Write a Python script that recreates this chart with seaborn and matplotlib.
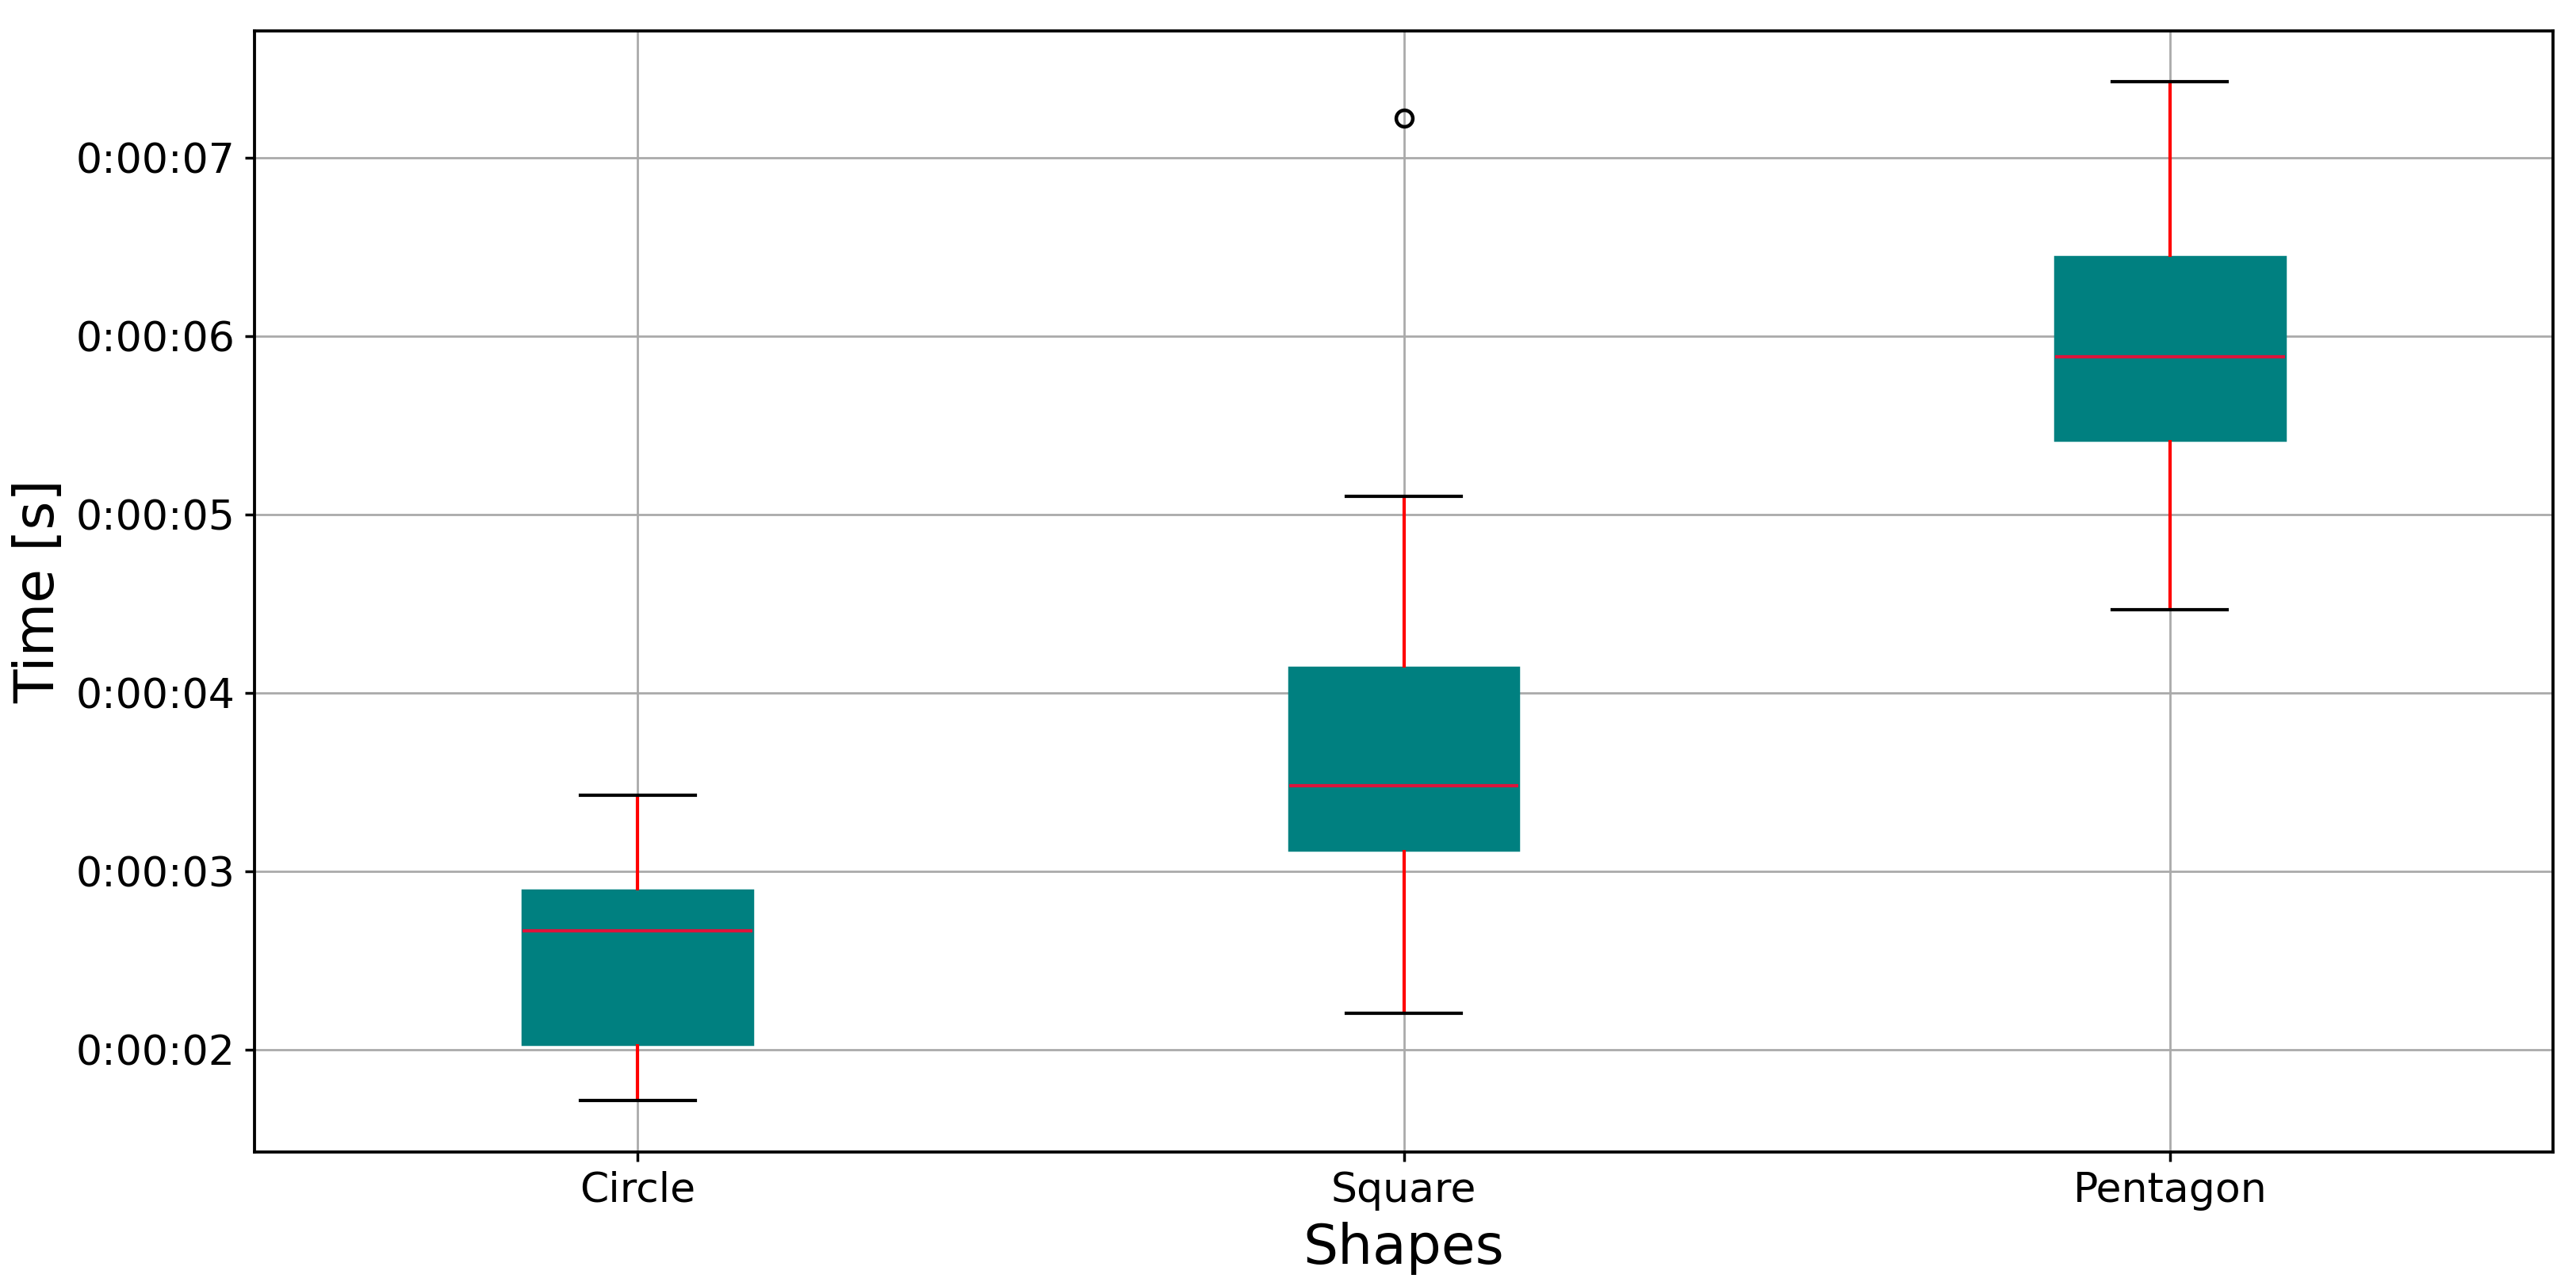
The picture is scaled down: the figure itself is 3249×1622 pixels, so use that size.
import datetime

import numpy as np
import pandas as pd
import matplotlib
matplotlib.use("Agg")
import matplotlib.pyplot as plt
import seaborn as sns
from matplotlib.ticker import FuncFormatter, MultipleLocator


# -------------------------------------------------------
# Box statistics (seconds)
# -------------------------------------------------------

shapes = ["Circle", "Square", "Pentagon"]
whisker_low = [1.714, 2.204, 4.465]
quartile_1 = [2.032, 3.121, 5.415]
medians = [2.668, 3.479, 5.881]
quartile_3 = [2.893, 4.142, 6.441]
whisker_high = [3.424, 5.103, 7.423]
outliers = [[], [7.219], []]


# observations that give exactly these quartiles / whiskers
rows = []
for i, shape in enumerate(shapes):
    values = [
        whisker_low[i],
        quartile_1[i], quartile_1[i],
        medians[i], medians[i],
        quartile_3[i], quartile_3[i],
        whisker_high[i],
    ] + outliers[i]
    for v in values:
        rows.append({"Shape": shape, "Time": v})

df = pd.DataFrame(rows)


# -------------------------------------------------------
# Plot
# -------------------------------------------------------

fig = plt.figure(figsize=(3249 / 250, 1622 / 250), dpi=250)
ax = fig.add_axes([321 / 3249, 1 - 1452.5 / 1622, (3220 - 321) / 3249, (1452.5 - 39) / 1622])

sns.boxplot(
    data=df,
    x="Shape",
    y="Time",
    order=shapes,
    width=0.3,
    whis=1.5,
    ax=ax,
    boxprops=dict(facecolor="teal", edgecolor="teal", linewidth=1.0),
    medianprops=dict(color="crimson", linewidth=1.2),
    whiskerprops=dict(color="red", linewidth=1.2),
    capprops=dict(color="black", linewidth=1.2),
    flierprops=dict(marker="o", markerfacecolor="none",
                    markeredgecolor="black", markersize=6, markeredgewidth=1.3),
)

ax.set_axisbelow(True)
ax.grid(True, color="#aaaaaa", linewidth=0.8)

ax.yaxis.set_major_locator(MultipleLocator(1))
ax.yaxis.set_major_formatter(
    FuncFormatter(lambda v, pos: str(datetime.timedelta(seconds=int(round(v)))))
)
ax.set_ylim(1.429, 7.709)
ax.set_xlim(-0.5, 2.5)

ax.set_xlabel("Shapes", fontsize=20)
ax.set_ylabel("Time [s]", fontsize=20)
ax.tick_params(axis="both", labelsize=15, width=1.0)

for spine in ax.spines.values():
    spine.set_color("black")
    spine.set_linewidth(1.1)
    spine.set_visible(True)

fig.savefig("out.png", dpi=250)
